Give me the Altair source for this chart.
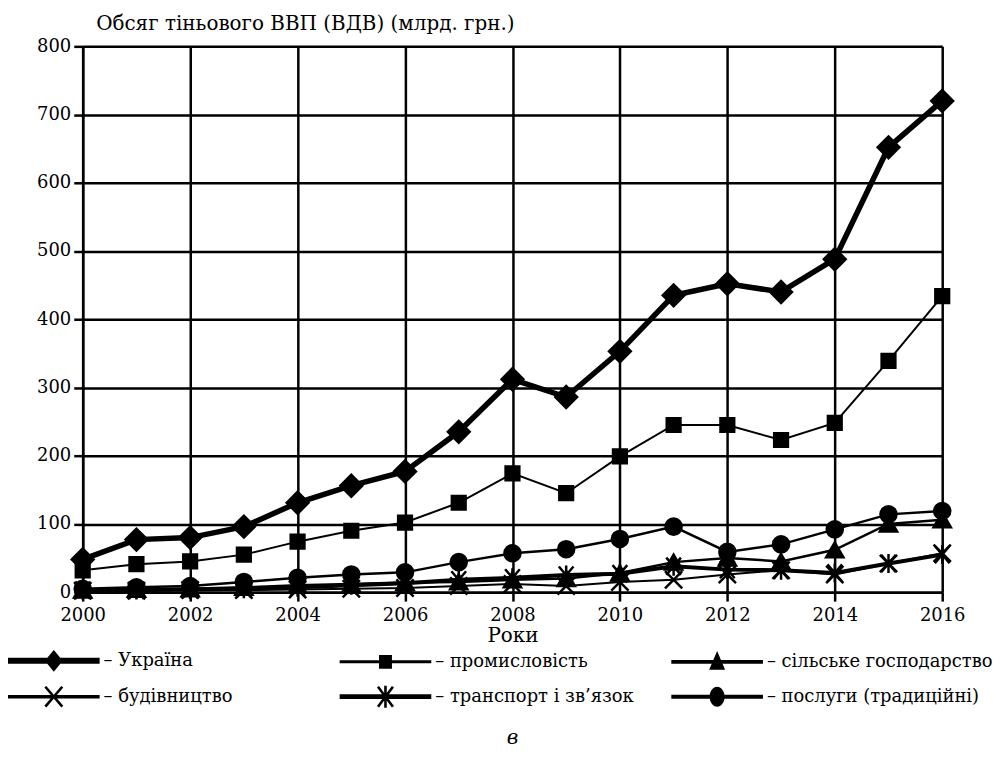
import altair as alt
import pandas as pd

years = list(range(2000, 2017))
series_names = ["Україна", "промисловість", "сільське господарство",
                "будівництво", "транспорт і зв’язок", "послуги (традиційні)"]

ukraine = [48, 77, 80, 96, 131, 156, 177, 235, 312, 286, 353, 435, 452, 440, 488, 652, 720]
industry = [32, 41, 45, 55, 74, 90, 102, 131, 174, 145, 199, 245, 245, 223, 248, 339, 434]
agriculture = [3, 4, 5, 7, 10, 12, 14, 15, 18, 20, 28, 44, 50, 45, 62, 100, 106]
construction = [2, 2, 3, 3, 4, 5, 6, 9, 12, 9, 15, 18, 26, 32, 26, 42, 57]
transport = [3, 3, 4, 5, 7, 10, 13, 18, 21, 25, 27, 38, 33, 32, 28, 42, 55]
services = [5, 7, 9, 15, 21, 26, 29, 44, 57, 63, 78, 96, 59, 70, 92, 114, 119]

x_ticks = list(range(2000, 2017, 2))
y_ticks = list(range(0, 801, 100))

all_values = [ukraine, industry, agriculture, construction, transport, services]
rows = []
for name, vals in zip(series_names, all_values):
    for y, v in zip(years, vals):
        rows.append({"year": y, "value": v, "series": name})
df = pd.DataFrame(rows)

FONT = "DejaVu Serif"
FS = 20
LEG_FS = 18
TICK_FS = 18

line_widths = [5.5, 2, 2.5, 2, 4, 2.5]
marker_shapes = [
    "diamond",
    "square",
    "triangle-up",
    "M -1 -1 L 1 1 M -1 1 L 1 -1",
    "M -0.85 -1 L 0.85 1 M -0.85 1 L 0.85 -1 M 0 -1.1 L 0 1.1",
    "circle",
]
marker_sizes = [480, 190, 300, 300, 300, 260]


def bar(h):
    return f"M -4.6 {-h} L 4.6 {-h} L 4.6 {h} L -4.6 {h} Z "


X_BARS = ("M -0.751 -1.084 L 0.949 0.916 L 0.751 1.084 L -0.949 -0.916 Z "
          "M -0.949 0.916 L 0.751 -1.084 L 0.949 -0.916 L -0.751 1.084 Z")
AST_BARS = ("M -0.646 -1.078 L 0.854 0.922 L 0.646 1.078 L -0.854 -0.922 Z "
            "M -0.854 0.922 L 0.646 -1.078 L 0.854 -0.922 L -0.646 1.078 Z "
            "M -0.13 -1.1 L 0.13 -1.1 L 0.13 1.1 L -0.13 1.1 Z")

legend_shapes = [
    bar(0.3) + "M 0 -1.1 L 0.9 0 L 0 1.1 L -0.9 0 Z",
    bar(0.15) + "M -0.65 -0.7 L 0.65 -0.7 L 0.65 0.7 L -0.65 0.7 Z",
    bar(0.18) + "M 0 -1.1 L 0.8 0.8 L -0.8 0.8 Z",
    bar(0.18) + X_BARS,
    bar(0.24) + AST_BARS,
    bar(0.2) + "M 0.75 0 A 0.75 1 0 1 1 -0.75 0 A 0.75 1 0 1 1 0.75 0 Z",
]

x_enc = alt.X("year:Q",
              scale=alt.Scale(domain=[2000, 2016], nice=False, zero=False),
              axis=alt.Axis(values=x_ticks, format="d", title="Роки", grid=True,
                            labelFlush=False, labelPadding=5, titlePadding=2))
y_enc = alt.Y("value:Q",
              scale=alt.Scale(domain=[0, 800], nice=False),
              axis=alt.Axis(values=y_ticks, grid=True, labelFlush=False,
                            title="Обсяг тіньового ВВП (ВДВ) (млрд. грн.)",
                            titleAngle=0, titleAlign="left", titleBaseline="alphabetic",
                            titleX=13, titleY=-17, labelPadding=3))

lines = alt.Chart(df).mark_line(color="black").encode(
    x=x_enc, y=y_enc,
    detail="series:N",
    strokeWidth=alt.StrokeWidth("series:N",
                                scale=alt.Scale(type="ordinal", domain=series_names,
                                                range=line_widths),
                                legend=None),
)

points = alt.Chart(df).mark_point(filled=True, color="black", fill="black",
                                  stroke="black", strokeWidth=2.5, opacity=1).encode(
    x="year:Q", y="value:Q",
    shape=alt.Shape("series:N", scale=alt.Scale(domain=series_names, range=marker_shapes),
                    legend=None),
    size=alt.Size("series:N", scale=alt.Scale(type="ordinal", domain=series_names,
                                              range=marker_sizes),
                  legend=None),
)

leg = alt.Legend(title=None, orient="none", legendX=-75, legendY=607,
                 direction="horizontal",
                 columns=3, gridAlign="all",
                 symbolSize=400, symbolType="circle",
                 symbolFillColor="black", symbolStrokeWidth=0,
                 symbolOffset=36,
                 labelOffset=40, columnPadding=10, rowPadding=14,
                 labelFont=FONT, labelFontSize=LEG_FS, labelColor="black",
                 labelLimit=400,
                 labelExpr="'– ' + datum.label")

legend_layer = alt.Chart(df).mark_point(filled=True, color="black",
                                        opacity=0).encode(
    x="year:Q", y="value:Q",
    shape=alt.Shape("series:N",
                    scale=alt.Scale(domain=series_names, range=legend_shapes),
                    legend=leg),
)

chart = alt.layer(lines, points, legend_layer).resolve_scale(
    shape="independent", size="independent", strokeWidth="independent"
).properties(
    width=863, height=548,
    padding={"left": 0, "top": 4, "right": 2, "bottom": 2},
    title=alt.TitleParams("в", orient="bottom", font=FONT, fontSize=FS,
                          fontStyle="italic", fontWeight="normal", color="black",
                          anchor="middle", offset=20),
).configure_view(stroke=None).configure_axis(
    labelFont=FONT, labelFontSize=TICK_FS, labelColor="black",
    titleFont=FONT, titleFontSize=FS, titleFontWeight="normal", titleColor="black",
    domainColor="black", domainWidth=2.5,
    tickColor="black", tickWidth=2.5, tickSize=9,
    gridColor="black", gridWidth=2.5, gridOpacity=1,
)

chart.save("out.html", embed_options={"renderer": "svg", "actions": False})
